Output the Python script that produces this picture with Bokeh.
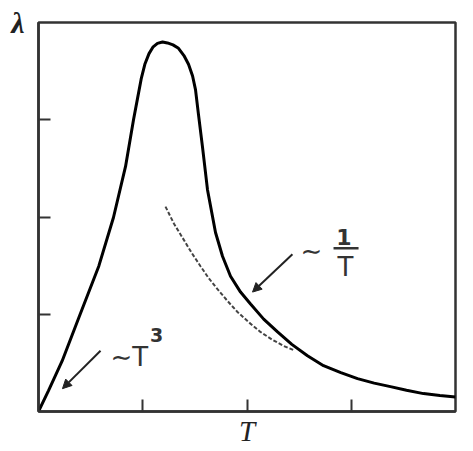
from bokeh.plotting import figure
from bokeh.models import Label, Arrow, NormalHead, FixedTicker, Range1d
from bokeh.embed import file_html
from bokeh.resources import INLINE

# main curve lambda(T)
curve_T = [0, 0.096, 0.227, 0.393, 0.579, 0.719, 0.835, 0.911, 0.950, 0.985, 1.020, 1.060,
           1.100, 1.141, 1.190, 1.237, 1.290, 1.343, 1.395, 1.439, 1.478, 1.506, 1.535, 1.573,
           1.621, 1.698, 1.765, 1.842, 1.938, 2.034, 2.160, 2.293, 2.430, 2.580, 2.734, 2.900,
           3.060, 3.220, 3.376, 3.530, 3.693, 3.850, 4.0]
curve_L = [0, 0.215, 0.52, 0.982, 1.497, 1.995, 2.52, 2.997, 3.22, 3.42, 3.57, 3.68,
           3.75, 3.785, 3.80, 3.79, 3.77, 3.735, 3.66, 3.57, 3.45, 3.31, 3.05, 2.721,
           2.281, 1.841, 1.596, 1.391, 1.228, 1.105, 0.950, 0.818, 0.690, 0.573, 0.471, 0.400,
           0.338, 0.292, 0.256, 0.218, 0.184, 0.165, 0.150]

# dashed 1/T asymptote
asym_T = [1.218, 1.300, 1.391, 1.470, 1.554, 1.630, 1.717, 1.810, 1.909, 2.020, 2.129, 2.240, 2.350, 2.450]
asym_L = [2.107, 1.930, 1.770, 1.630, 1.494, 1.375, 1.258, 1.140, 1.023, 0.915, 0.818, 0.740, 0.675, 0.630]

x_ticks = [1, 2, 3]
y_ticks = [1, 2, 3]

p = figure(width=471, height=449, output_backend="svg", toolbar_location=None,
           x_range=Range1d(0, 4), y_range=Range1d(0, 4),
           min_border_left=38, min_border_right=16, min_border_top=22, min_border_bottom=36)
p.background_fill_color = "white"
p.border_fill_color = "white"
p.xgrid.visible = False
p.ygrid.visible = False
p.outline_line_color = "#333333"
p.outline_line_width = 2.5

for ax, ticks in ((p.xaxis, x_ticks), (p.yaxis, y_ticks)):
    ax.ticker = FixedTicker(ticks=ticks)
    ax.major_tick_in = 12
    ax.major_tick_out = 0
    ax.minor_tick_line_color = None
    ax.major_tick_line_color = "#333333"
    ax.major_tick_line_width = 2
    ax.axis_line_color = "#333333"
    ax.axis_line_width = 2.5
    ax.major_label_overrides = {t: "" for t in ticks}
    ax.major_label_standoff = 0

xa = p.xaxis[0]
xa.axis_label = "T"
xa.axis_label_text_font = "Liberation Serif"
xa.axis_label_text_font_style = "italic"
xa.axis_label_text_font_size = "29px"
xa.axis_label_text_color = "#222222"
xa.axis_label_standoff = 3

ya = p.yaxis[0]
ya.axis_label = "λ"
ya.axis_label_text_font = "Liberation Serif"
ya.axis_label_text_font_style = "bold italic"
ya.axis_label_text_font_size = "30px"
ya.axis_label_text_color = "#222222"
ya.axis_label_orientation = "horizontal"
ya.axis_label_standoff = 14
if "axis_label_align" in ya.properties():
    ya.axis_label_align = "end"

p.line(curve_T, curve_L, line_color="black", line_width=3)
p.line(asym_T, asym_L, line_color="#444444", line_width=2, line_dash="4 2")

# arrows
p.add_layout(Arrow(x_start=0.595, y_start=0.624, x_end=0.230, y_end=0.235,
                   line_color="#222222", line_width=2,
                   end=NormalHead(size=9, fill_color="#222222", line_color="#222222")))
p.add_layout(Arrow(x_start=2.436, y_start=1.616, x_end=2.053, y_end=1.228,
                   line_color="#222222", line_width=2,
                   end=NormalHead(size=9, fill_color="#222222", line_color="#222222")))

# fraction bar of 1/T
p.add_layout(Arrow(x_start=2.83, y_start=1.678, x_end=3.07, y_end=1.678,
                   line_color="#333333", line_width=2.5, end=None, start=None))

sans = "DejaVu Sans"
p.add_layout(Label(x=0.691, y=0.563, text="∼T", text_font=sans, text_font_size="26px",
                   text_color="#333333", text_baseline="alphabetic", text_align="left"))
p.add_layout(Label(x=1.07, y=0.86, text="3", text_font=sans, text_font_size="19px",
                   text_font_style="bold", text_color="#333333", text_baseline="top", text_align="left"))
p.add_layout(Label(x=2.513, y=1.647, text="∼", text_font=sans, text_font_size="26px",
                   text_color="#333333", text_baseline="middle", text_align="left"))
p.add_layout(Label(x=2.93, y=1.71, text="1", text_font=sans, text_font_size="22px",
                   text_font_style="bold", text_color="#333333", text_baseline="bottom", text_align="center"))
p.add_layout(Label(x=2.945, y=1.645, text="T", text_font=sans, text_font_size="26px",
                   text_color="#333333", text_baseline="top", text_align="center"))

open("out.html", "w").write(file_html(p, INLINE))
